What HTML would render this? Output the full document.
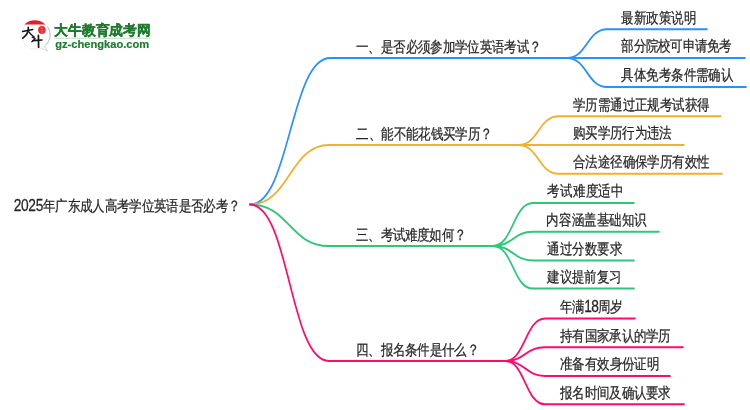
<!DOCTYPE html>
<html><head><meta charset="utf-8"><style>
html,body{margin:0;padding:0;background:#fff;width:750px;height:410px;overflow:hidden}
#m{position:absolute;left:0;top:0;will-change:transform}
#m path{fill:none !important;stroke-width:2.0;stroke-linecap:round}
#m text{font-family:'Liberation Sans', sans-serif;font-size:15px;font-weight:500;fill:#262626;stroke:#262626;stroke-width:0.25px}
</style></head><body>
<svg id="m" width="750" height="410" viewBox="0 0 900 410" preserveAspectRatio="none">
<text id="t0" x="16.44" y="211.00" textLength="272.36" lengthAdjust="spacing"><tspan style="font-size:16.5px">2025</tspan>年广东成人高考学位英语是否必考？</text>
<path d="M300.00,204.60 C348.12,204.60 348.12,58.00 396.24,58.00 L680.40,58.00" stroke="#2891ff"/>
<text id="t1" x="427.32" y="52.00" textLength="222.87" lengthAdjust="spacing">一、是否必须参加学位英语考试？</text>
<path d="M680.40,58.00 C704.40,58.00 704.40,29.20 728.40,29.20 L848.40,29.20" stroke="#2891ff"/>
<text id="t2" x="745.80" y="22.70" textLength="90.06" lengthAdjust="spacing">最新政策说明</text>
<path d="M680.40,58.00 C704.40,58.00 704.40,58.00 728.40,58.00 L894.00,58.00" stroke="#2891ff"/>
<text id="t3" x="745.80" y="51.50" textLength="132.57" lengthAdjust="spacing">部分院校可申请免考</text>
<path d="M680.40,58.00 C704.40,58.00 704.40,87.00 728.40,87.00 L895.20,87.00" stroke="#2891ff"/>
<text id="t4" x="745.80" y="80.50" textLength="134.49" lengthAdjust="spacing">具体免考条件需确认</text>
<path d="M300.00,204.60 C347.40,204.60 347.40,145.00 394.80,145.00 L622.20,145.00" stroke="#f3b02a"/>
<text id="t5" x="427.68" y="139.00" textLength="163.71" lengthAdjust="spacing">二、能不能花钱买学历？</text>
<path d="M622.20,145.00 C646.20,145.00 646.20,116.30 670.20,116.30 L864.84,116.30" stroke="#f3b02a"/>
<text id="t6" x="687.60" y="109.80" textLength="164.19" lengthAdjust="spacing">学历需通过正规考试获得</text>
<path d="M622.20,145.00 C646.20,145.00 646.20,145.00 670.20,145.00 L820.68,145.00" stroke="#f3b02a"/>
<text id="t7" x="687.60" y="138.50" textLength="118.80" lengthAdjust="spacing">购买学历行为违法</text>
<path d="M622.20,145.00 C646.20,145.00 646.20,173.70 670.20,173.70 L866.40,173.70" stroke="#f3b02a"/>
<text id="t8" x="687.60" y="167.20" textLength="164.19" lengthAdjust="spacing">合法途径确保学历有效性</text>
<path d="M300.00,204.60 C347.40,204.60 347.40,246.00 394.80,246.00 L591.60,246.00" stroke="#2dc87a"/>
<text id="t9" x="427.44" y="240.00" textLength="132.33" lengthAdjust="spacing">三、考试难度如何？</text>
<path d="M591.60,246.00 C615.60,246.00 615.60,203.00 639.60,203.00 L760.68,203.00" stroke="#2dc87a"/>
<text id="t10" x="657.00" y="196.50" textLength="91.50" lengthAdjust="spacing">考试难度适中</text>
<path d="M591.60,246.00 C615.60,246.00 615.60,231.70 639.60,231.70 L790.80,231.70" stroke="#2dc87a"/>
<text id="t11" x="655.80" y="225.20" textLength="120.48" lengthAdjust="spacing">内容涵盖基础知识</text>
<path d="M591.60,246.00 C615.60,246.00 615.60,260.40 639.60,260.40 L760.80,260.40" stroke="#2dc87a"/>
<text id="t12" x="657.00" y="253.90" textLength="90.06" lengthAdjust="spacing">通过分数要求</text>
<path d="M591.60,246.00 C615.60,246.00 615.60,288.60 639.60,288.60 L760.80,288.60" stroke="#2dc87a"/>
<text id="t13" x="657.00" y="282.10" textLength="88.86" lengthAdjust="spacing">建议提前复习</text>
<path d="M300.00,204.60 C347.40,204.60 347.40,361.00 394.80,361.00 L606.24,361.00" stroke="#ff0a6e"/>
<text id="t14" x="427.32" y="355.00" textLength="147.78" lengthAdjust="spacing">四、报名条件是什么？</text>
<path d="M606.24,361.00 C630.24,361.00 630.24,318.50 654.24,318.50 L762.00,318.50" stroke="#ff0a6e"/>
<text id="t15" x="672.12" y="312.00" textLength="75.59" lengthAdjust="spacing">年满<tspan style="font-size:16.5px">18</tspan>周岁</text>
<path d="M606.24,361.00 C630.24,361.00 630.24,347.20 654.24,347.20 L819.60,347.20" stroke="#ff0a6e"/>
<text id="t16" x="672.12" y="340.70" textLength="133.29" lengthAdjust="spacing">持有国家承认的学历</text>
<path d="M606.24,361.00 C630.24,361.00 630.24,375.90 654.24,375.90 L804.00,375.90" stroke="#ff0a6e"/>
<text id="t17" x="672.12" y="369.40" textLength="119.28" lengthAdjust="spacing">准备有效身份证明</text>
<path d="M606.24,361.00 C630.24,361.00 630.24,404.30 654.24,404.30 L820.80,404.30" stroke="#ff0a6e"/>
<text id="t18" x="672.12" y="397.80" textLength="133.29" lengthAdjust="spacing">报名时间及确认要求</text>
</svg>

<svg style="position:absolute;left:0;top:0;will-change:transform" width="200" height="70" viewBox="0 0 200 70">
  <circle cx="35.8" cy="35.0" r="14.2" fill="#fff" stroke="#e2e2e2" stroke-width="0.7"/>
  <path d="M47.5,26.5 A14.2,14.2 0 0 1 45.5,45.5" fill="none" stroke="#b8b8b8" stroke-width="0.9"/>
  <path d="M44.2,45.8 L47.6,51 L41.5,48.3" fill="#fff" stroke="#c4c4c4" stroke-width="0.7"/>
  <path d="M24.2,24.6 A14.8,14.8 0 0 1 45.4,24.6 Z" fill="#e3202a"/>
  <ellipse cx="41.9" cy="30.0" rx="3.8" ry="4.1" fill="#e52b31"/>
  <path d="M40.2,28 L43.2,28.5 M40.5,30.5 L43.5,31 M41,33 L43,32.6" stroke="#f08a8e" stroke-width="0.6" fill="none"/>
  <path d="M22.6,31.6 L32.8,29.4" stroke="#151515" stroke-width="1.5" fill="none" stroke-linecap="round"/>
  <path d="M28.3,27.2 C28.6,31.5 26.5,35.5 22.8,38.2" stroke="#151515" stroke-width="1.6" fill="none" stroke-linecap="round"/>
  <path d="M28.9,31.8 C30.5,34.2 32.2,35.8 34.3,37" stroke="#151515" stroke-width="1.4" fill="none" stroke-linecap="round"/>
  <path d="M32.2,37.2 L35.2,38.6 L31.8,41.8" stroke="#151515" stroke-width="1.3" fill="none" stroke-linecap="round" stroke-linejoin="round"/>
  <path d="M33,40.6 L42,40" stroke="#151515" stroke-width="1.6" fill="none" stroke-linecap="round"/>
  <path d="M38.4,35.3 L38.6,47.2" stroke="#151515" stroke-width="1.7" fill="none" stroke-linecap="round"/>
  <text x="54.4" y="34.9" font-family="'Liberation Sans',sans-serif" font-weight="900" font-size="14" fill="#1e7b2e" stroke="#1e7b2e" stroke-width="0.35" textLength="96" lengthAdjust="spacingAndGlyphs">大牛教育成考网</text>
  <rect x="54.5" y="37.8" width="96" height="1.2" fill="#d3e3d6"/>
  <text x="55.2" y="47.8" font-family="'Liberation Sans',sans-serif" font-weight="700" font-size="11.5" fill="#1e7b2e" stroke="#1e7b2e" stroke-width="0.2" textLength="94" lengthAdjust="spacingAndGlyphs">gz-chengkao.com</text>
</svg>
</body></html>
